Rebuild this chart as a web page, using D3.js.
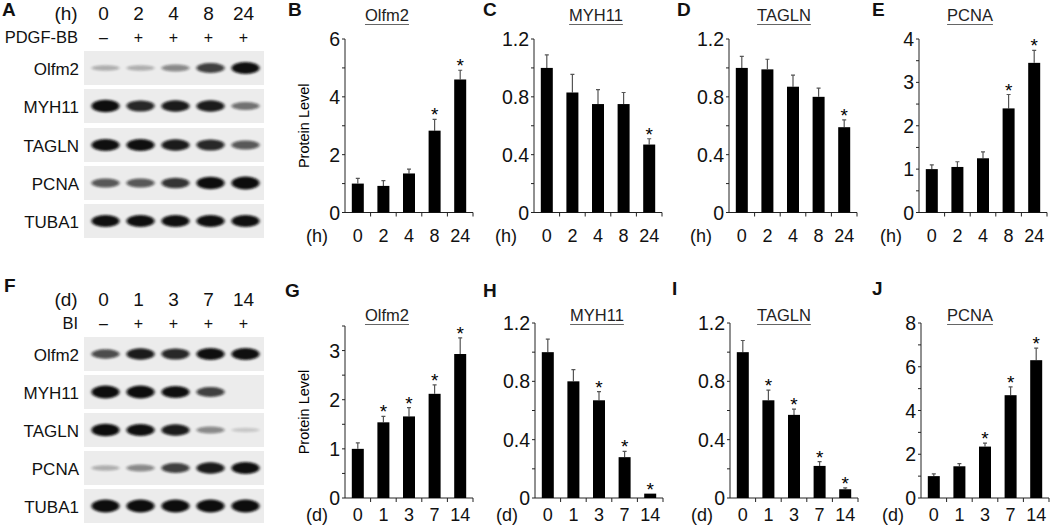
<!DOCTYPE html>
<html lang="en">
<head>
<meta charset="UTF-8" />
<title>Olfm2 protein levels</title>
<script src="https://d3js.org/d3.v7.min.js"></script>
<style>
  body { margin: 0; background: #fff; }
  svg { display: block; font-family: "Liberation Sans", Arial, sans-serif; }
  .tick-label { font-size: 19.5px; fill: #111; }
  .x-label { font-size: 18px; fill: #111; }
  .title { font-size: 16.5px; fill: #222; }
  .letter { font-size: 19px; font-weight: bold; fill: #111; }
  .blot-text { fill: #111; }
</style>
</head>
<body>
<svg width="1050" height="528"></svg>
<script>
// ---- data ----
const hours = ["0", "2", "4", "8", "24"];
const days = ["0", "1", "3", "7", "14"];
const blotRows = ["Olfm2", "MYH11", "TAGLN", "PCNA", "TUBA1"];
const pdgfSigns = ["–", "+", "+", "+", "+"];
const biSigns = ["–", "+", "+", "+", "+"];

// band darkness (0 = none, 1 = saturated)
const blotA = [
  [0.25, 0.25, 0.4, 0.7, 0.9],
  [0.95, 0.8, 0.85, 0.85, 0.5],
  [0.9, 0.9, 0.85, 0.8, 0.6],
  [0.6, 0.6, 0.75, 0.95, 1.0],
  [0.9, 0.9, 0.9, 0.9, 0.9]
];
const blotF = [
  [0.65, 0.85, 0.8, 0.9, 0.9],
  [1.0, 1.0, 0.9, 0.7, 0.0],
  [0.95, 0.9, 0.85, 0.4, 0.15],
  [0.25, 0.4, 0.7, 0.85, 0.9],
  [1.0, 1.0, 1.0, 1.0, 1.0]
];

// time course after PDGF-BB (h)
const olfm2H = [1.0, 0.92, 1.35, 2.83, 4.6];
const olfm2HErr = [0.18, 0.18, 0.15, 0.39, 0.32];
const olfm2HSig = [0, 0, 0, 1, 1];
const myh11H = [1.0, 0.83, 0.75, 0.75, 0.47];
const myh11HErr = [0.09, 0.125, 0.1, 0.08, 0.04];
const myh11HSig = [0, 0, 0, 0, 1];
const taglnH = [1.0, 0.99, 0.87, 0.80, 0.59];
const taglnHErr = [0.08, 0.07, 0.08, 0.06, 0.05];
const taglnHSig = [0, 0, 0, 0, 1];
const pcnaH = [1.0, 1.05, 1.25, 2.4, 3.45];
const pcnaHErr = [0.1, 0.12, 0.15, 0.32, 0.29];
const pcnaHSig = [0, 0, 0, 1, 1];

// time course after BI (d)
const olfm2D = [1.0, 1.54, 1.66, 2.12, 2.93];
const olfm2DErr = [0.12, 0.12, 0.18, 0.18, 0.33];
const olfm2DSig = [0, 1, 1, 1, 1];
const myh11D = [1.0, 0.80, 0.67, 0.28, 0.03];
const myh11DErr = [0.09, 0.08, 0.06, 0.04, 0.0];
const myh11DSig = [0, 0, 1, 1, 1];
const taglnD = [1.0, 0.67, 0.57, 0.22, 0.06];
const taglnDErr = [0.08, 0.07, 0.04, 0.03, 0.01];
const taglnDSig = [0, 1, 1, 1, 1];
const pcnaD = [1.0, 1.45, 2.35, 4.7, 6.3];
const pcnaDErr = [0.1, 0.12, 0.16, 0.38, 0.55];
const pcnaDSig = [0, 0, 1, 1, 1];

const svg = d3.select("svg");

// ---- western blots ----
const defs = svg.append("defs");
defs.append("filter").attr("id", "blur")
  .attr("x", "-30%").attr("y", "-100%").attr("width", "160%").attr("height", "300%")
  .append("feGaussianBlur").attr("stdDeviation", "1.8 1.3");

function drawBlot(cfg) {
  const g = svg.append("g").attr("class", "blot-text");
  const lane = d3.scaleBand().domain(cfg.lanes).range([88, 263]);
  const cx = d => lane(d) + lane.bandwidth() / 2;

  g.append("text").attr("x", 66).attr("y", cfg.headY)
    .attr("text-anchor", "middle").style("font-size", "19px").text(cfg.unit);
  g.selectAll(".lane-num").data(cfg.lanes).enter().append("text")
    .attr("x", d => cx(d) - 2).attr("y", cfg.headY)
    .attr("text-anchor", "middle").style("font-size", "19px").text(d => d);

  g.append("text").attr("x", 78).attr("y", cfg.headY + 23)
    .attr("text-anchor", "end").style("font-size", "16.5px").text(cfg.treat);
  g.selectAll(".sign").data(cfg.signs).enter().append("text")
    .attr("x", (d, i) => cx(cfg.lanes[i]) - 2).attr("y", cfg.headY + 23)
    .attr("text-anchor", "middle").style("font-size", "16px").text(d => d);

  blotRows.forEach((name, r) => {
    const y0 = cfg.stripY[r];
    g.append("rect").attr("x", 84).attr("y", y0).attr("width", 180).attr("height", 34)
      .attr("fill", "#ececec");
    g.append("text").attr("x", 79).attr("y", y0 + 23.5)
      .attr("text-anchor", "end").style("font-size", "17px").text(name);
    g.selectAll(null).data(cfg.bands[r]).enter().append("ellipse")
      .attr("cx", (d, i) => cx(cfg.lanes[i]))
      .attr("cy", y0 + 17)
      .attr("rx", 14)
      .attr("ry", d => 1.5 + d * 5)
      .attr("fill", "#0a0a0a")
      .attr("opacity", d => Math.min(1, d * 1.1))
      .attr("filter", "url(#blur)");
  });
}

drawBlot({ lanes: hours, unit: "(h)", treat: "PDGF-BB", signs: pdgfSigns, bands: blotA,
  headY: 20, stripY: [51, 89, 128, 166, 204] });
drawBlot({ lanes: days, unit: "(d)", treat: "BI", signs: biSigns, bands: blotF,
  headY: 306, stripY: [337, 375, 413, 451, 489] });

// ---- bar charts ----
function drawBars(cfg) {
  const g = svg.append("g");
  const x = d3.scaleBand().domain(cfg.cats).range([cfg.x0, cfg.x0 + 128]);
  const y = d3.scaleLinear().domain([0, cfg.max]).range([cfg.yb, cfg.yt]);
  const bw = 12;

  // y axis with minor ticks
  const ticks = d3.range(0, cfg.max + 1e-9, cfg.minor);
  g.append("line").attr("x1", cfg.x0).attr("x2", cfg.x0)
    .attr("y1", y(0)).attr("y2", y(cfg.max)).attr("stroke", "#222");
  g.selectAll(".yt").data(ticks).enter().append("line")
    .attr("x1", cfg.x0 - 3).attr("x2", cfg.x0)
    .attr("y1", d => y(d)).attr("y2", d => y(d)).attr("stroke", "#222");
  g.selectAll(".yl").data(ticks.filter(t => Math.abs(t / cfg.major - Math.round(t / cfg.major)) < 1e-6))
    .enter().append("text").attr("class", "tick-label")
    .attr("x", cfg.x0 - 5).attr("y", d => y(d) + 7)
    .attr("text-anchor", "end")
    .text(d => d === 0 ? "0" : d3.format(cfg.fmt)(d));

  // x axis
  g.append("line").attr("x1", cfg.x0).attr("x2", cfg.x0 + 128)
    .attr("y1", y(0)).attr("y2", y(0)).attr("stroke", "#222");
  g.selectAll(".xt").data(d3.range(1, cfg.cats.length + 1)).enter().append("line")
    .attr("x1", i => cfg.x0 + i * x.step()).attr("x2", i => cfg.x0 + i * x.step())
    .attr("y1", y(0)).attr("y2", y(0) + 4).attr("stroke", "#222");
  g.selectAll(".xl").data(cfg.cats).enter().append("text").attr("class", "x-label")
    .attr("x", d => x(d) + x.bandwidth() / 2).attr("y", y(0) + cfg.xlabOff)
    .attr("text-anchor", "middle").text(d => d);
  g.append("text").attr("class", "x-label").attr("x", cfg.x0 - 28).attr("y", y(0) + cfg.xlabOff)
    .attr("text-anchor", "middle").text(cfg.unit);

  const rows = cfg.cats.map((c, i) => ({ c, v: cfg.vals[i], e: cfg.err[i], s: cfg.sig[i] }));
  const cxb = d => x(d.c) + x.bandwidth() / 2;

  // error bars
  g.selectAll(".eb").data(rows.filter(d => d.e > 0)).enter().append("path")
    .attr("d", d => `M${cxb(d)},${y(d.v)}V${y(d.v + d.e)}M${cxb(d) - 2},${y(d.v + d.e)}H${cxb(d) + 2}`)
    .attr("stroke", "#555").attr("stroke-width", 1.2).attr("fill", "none");

  g.selectAll(".bar").data(rows).enter().append("rect")
    .attr("x", d => cxb(d) - bw / 2).attr("width", bw)
    .attr("y", d => y(d.v)).attr("height", d => y(0) - y(d.v))
    .attr("fill", "#000");

  g.selectAll(".star").data(rows.filter(d => d.s)).enter().append("text")
    .attr("x", cxb).attr("y", d => y(d.v + d.e) + 2)
    .attr("text-anchor", "middle").style("font-size", "19px").text("*");

  // title
  const t = g.append("text").attr("class", "title")
    .attr("x", cfg.titleX).attr("y", cfg.titleY)
    .attr("text-anchor", "middle").text(cfg.title);
  const tw = t.node().getComputedTextLength();
  g.append("line").attr("x1", cfg.titleX - tw / 2).attr("x2", cfg.titleX + tw / 2)
    .attr("y1", cfg.titleY + 3.5).attr("y2", cfg.titleY + 3.5)
    .attr("stroke", "#666").attr("stroke-width", 1);

  if (cfg.ylabel) {
    g.append("text").attr("transform", `translate(${cfg.x0 - 36},${(y(0) + y(cfg.max)) / 2}) rotate(-90)`)
      .attr("text-anchor", "middle").style("font-size", "14.5px").text(cfg.ylabel);
  }
}

const topRow = { yb: 212.5, yt: 39, titleY: 21, xlabOff: 29 };
const botRow = { yb: 498, yt: 323, titleY: 321, xlabOff: 23 };

drawBars({ ...topRow, x0: 345, titleX: 387, cats: hours, unit: "(h)", vals: olfm2H, err: olfm2HErr, sig: olfm2HSig,
  max: 6, minor: 1, major: 2, fmt: "d", title: "Olfm2", ylabel: "Protein Level" });
drawBars({ ...topRow, x0: 534, titleX: 596, cats: hours, unit: "(h)", vals: myh11H, err: myh11HErr, sig: myh11HSig,
  max: 1.2, minor: 0.2, major: 0.4, fmt: ".1f", title: "MYH11" });
drawBars({ ...topRow, x0: 729, titleX: 784, cats: hours, unit: "(h)", vals: taglnH, err: taglnHErr, sig: taglnHSig,
  max: 1.2, minor: 0.2, major: 0.4, fmt: ".1f", title: "TAGLN" });
drawBars({ ...topRow, x0: 919, titleX: 970, cats: hours, unit: "(h)", vals: pcnaH, err: pcnaHErr, sig: pcnaHSig,
  max: 4, minor: 0.5, major: 1, fmt: "d", title: "PCNA" });

drawBars({ ...botRow, yt: 326, x0: 345, titleX: 387, cats: days, unit: "(d)", vals: olfm2D, err: olfm2DErr, sig: olfm2DSig,
  max: 3.5, minor: 0.5, major: 1, fmt: "d", title: "Olfm2", ylabel: "Protein Level" });
drawBars({ ...botRow, x0: 535, titleX: 597, cats: days, unit: "(d)", vals: myh11D, err: myh11DErr, sig: myh11DSig,
  max: 1.2, minor: 0.2, major: 0.4, fmt: ".1f", title: "MYH11" });
drawBars({ ...botRow, x0: 730, titleX: 784, cats: days, unit: "(d)", vals: taglnD, err: taglnDErr, sig: taglnDSig,
  max: 1.2, minor: 0.2, major: 0.4, fmt: ".1f", title: "TAGLN" });
drawBars({ ...botRow, x0: 921, titleX: 970, cats: days, unit: "(d)", vals: pcnaD, err: pcnaDErr, sig: pcnaDSig,
  max: 8, minor: 1, major: 2, fmt: "d", title: "PCNA" });

// panel letters
const letters = [["A", 2, 16], ["B", 288, 16], ["C", 483, 16], ["D", 677, 16], ["E", 872, 16],
  ["F", 4, 292], ["G", 285, 297], ["H", 483, 297], ["I", 672, 295], ["J", 872, 295]];
svg.selectAll(".letter").data(letters).enter().append("text").attr("class", "letter")
  .attr("x", d => d[1]).attr("y", d => d[2]).text(d => d[0]);
</script>
</body>
</html>
